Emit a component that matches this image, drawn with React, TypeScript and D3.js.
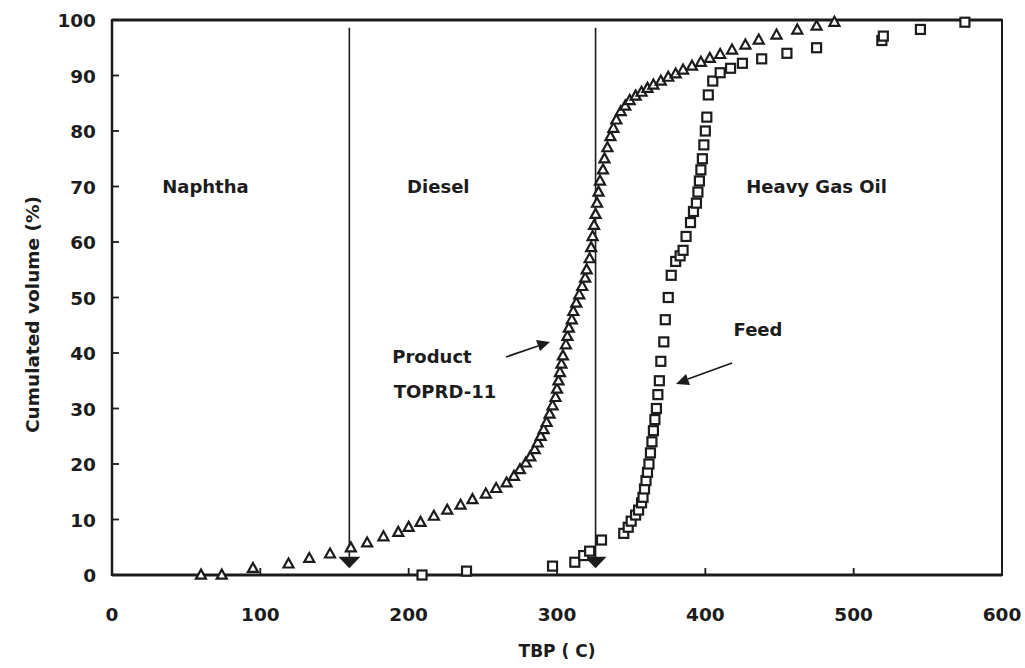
import React from "react";
import * as d3 from "d3";

const xTicks = [0, 100, 200, 300, 400, 500, 600];
const yTicks = [0, 10, 20, 30, 40, 50, 60, 70, 80, 90, 100];

const productX = [60, 74, 95, 119, 133, 147, 161, 172, 183, 193, 200, 208, 217, 226, 235, 243, 252, 259, 266, 271, 275, 279, 282, 285, 287, 289, 291, 293, 295, 297, 299, 300, 301, 302, 303, 304, 306, 307, 308, 310, 311, 313, 315, 317, 319, 320, 322, 323, 324, 325, 326, 327, 328, 329, 331, 332, 334, 336, 338, 340, 343, 346, 349, 353, 357, 361, 365, 370, 375, 380, 385, 391, 397, 403, 410, 418, 427, 436, 448, 462, 475, 487];
const productY = [0, 0, 1.2, 2, 3, 3.8, 4.9, 5.8, 6.9, 7.7, 8.6, 9.5, 10.6, 11.7, 12.6, 13.6, 14.6, 15.6, 16.6, 17.8, 19, 20.2, 21.3, 22.6, 23.8, 25, 26.2, 27.5, 29, 30.5, 32, 33.5, 35, 36.5, 38, 39.5, 41.5, 43, 44.5, 46, 47.5, 49, 50.5, 52, 53.5, 55, 57, 59, 61, 63, 65, 67, 69, 71, 73, 75, 77, 79, 80.5, 82, 83.5, 84.5, 85.5, 86.3, 87, 87.7, 88.3, 89, 89.7, 90.3, 91, 91.7, 92.4, 93.1, 93.8, 94.6, 95.5, 96.4, 97.3, 98.2, 98.9, 99.6];

const feedX = [209, 239, 297, 312, 318, 322, 330, 345, 348, 350, 353, 355, 357, 358, 359, 360, 361, 362, 363, 364, 365, 366, 367, 368, 369, 370, 372, 373, 375, 377, 380, 383, 385, 387, 390, 392, 394, 395, 396, 397, 398, 399, 400, 401, 402, 405, 410, 417, 425, 438, 455, 475, 519, 520, 545, 575];
const feedY = [0, 0.7, 1.6, 2.3, 3.5, 4.3, 6.3, 7.5, 8.6, 9.7, 10.8, 11.7, 13, 14, 15.5, 17, 18.5, 20, 22, 24, 26, 28, 30, 32.5, 35, 38.5, 42, 46, 50, 54, 56.5, 57.5, 58.5, 61, 63.5, 65.5, 67, 69, 71, 73, 75, 77.5, 80, 82.5, 86.5, 89, 90.5, 91.3, 92.2, 93, 94, 95, 96.3, 97.1, 98.3, 99.6];

const cutPoints = [160, 326];
const regionLabels = ["Naphtha", "Diesel", "Heavy Gas Oil"];
const regionLabelX = [63, 220, 475];
const regionLabelY = [70, 70, 70];

const W = 1025;
const H = 668;
const left = 112;
const right = 1002;
const top = 20;
const bottom = 575;
const ink = "#1c1c1c";
const font = "'DejaVu Sans', Arial, Helvetica, sans-serif";

export default function App() {
  const x = d3.scaleLinear().domain([0, 600]).range([left, right]);
  const y = d3.scaleLinear().domain([0, 100]).range([bottom, top]);

  const tri = (cx: number, cy: number, s: number) => {
    const h = s * 0.9;
    return `M${cx},${cy - h * 0.6}L${cx + s / 2},${cy + h * 0.4}L${cx - s / 2},${cy + h * 0.4}Z`;
  };

  const product = productX.map((v, i) => ({ x: v, y: productY[i] }));
  const feed = feedX.map((v, i) => ({ x: v, y: feedY[i] }));

  return (
    <svg width={W} height={H} style={{ position: "absolute", left: 0, top: 0, background: "#fff" }} fontFamily={font}>
      <rect x={0} y={0} width={W} height={H} fill="#fff" />
      {/* frame */}
      <line x1={left} x2={right} y1={top} y2={top} stroke={ink} strokeWidth={3} />
      <line x1={left} x2={right} y1={bottom} y2={bottom} stroke={ink} strokeWidth={3} />
      <line x1={left} x2={left} y1={top - 1} y2={bottom + 1} stroke={ink} strokeWidth={2.5} />
      <line x1={right} x2={right} y1={top - 1} y2={bottom + 1} stroke={ink} strokeWidth={2} />
      {/* y ticks */}
      {yTicks.map((t) => (
        <g key={"y" + t}>
          {t > 0 && t < 100 && (
            <line x1={left} x2={left + 7} y1={y(t)} y2={y(t)} stroke={ink} strokeWidth={1.8} />
          )}
          <text x={left - 16} y={y(t) + 7} textAnchor="end" fontSize={18.5} fontWeight="bold" fill={ink}>
            {t}
          </text>
        </g>
      ))}
      {/* x ticks */}
      {xTicks.map((t) => (
        <g key={"x" + t}>
          {t > 0 && t < 600 && (
            <line x1={x(t)} x2={x(t)} y1={bottom} y2={bottom - 7} stroke={ink} strokeWidth={1.8} />
          )}
          <text x={x(t)} y={bottom + 46} textAnchor="middle" fontSize={18.5} fontWeight="bold" fill={ink}>
            {t}
          </text>
        </g>
      ))}
      <text x={557} y={657} textAnchor="middle" fontSize={17} fontWeight="bold" fill={ink}>
        TBP ( C)
      </text>
      <text
        transform={`translate(39,${(top + bottom) / 2 + 17}) rotate(-90)`}
        textAnchor="middle"
        fontSize={18.5}
        fontWeight="bold"
        fill={ink}
      >
        Cumulated volume (%)
      </text>
      {/* cut lines with arrows */}
      {cutPoints.map((c) => (
        <g key={"c" + c}>
          <line x1={x(c)} x2={x(c)} y1={y(98.6)} y2={y(2.8)} stroke={ink} strokeWidth={1.6} />
          <path
            d={`M${x(c) - 11},${y(3.3)}L${x(c) + 11},${y(3.3)}L${x(c)},${y(1.2)}Z`}
            fill={ink}
          />
        </g>
      ))}
      {/* region labels */}
      {regionLabels.map((l, i) => (
        <text key={l} x={x(regionLabelX[i])} y={y(regionLabelY[i]) + 6} textAnchor="middle" fontSize={18} fontWeight="bold" fill={ink}>
          {l}
        </text>
      ))}
      <text x={432} y={363} textAnchor="middle" fontSize={18} fontWeight="bold" fill={ink}>
        Product
      </text>
      <text x={445} y={398} textAnchor="middle" fontSize={18} fontWeight="bold" fill={ink}>
        TOPRD-11
      </text>
      <text x={758} y={336} textAnchor="middle" fontSize={18} fontWeight="bold" fill={ink}>
        Feed
      </text>
      {/* annotation arrows */}
      <line x1={506} y1={357} x2={538} y2={346} stroke={ink} strokeWidth={1.8} />
      <path d="M550,342 L536,340 L540,351 Z" fill={ink} />
      <line x1={732} y1={363} x2={688} y2={379} stroke={ink} strokeWidth={1.8} />
      <path d="M676,384 L686,374 L690,385 Z" fill={ink} />
      {/* product triangles */}
      {product.map((p, i) => (
        <path key={"p" + i} d={tri(x(p.x), y(p.y), 10)} fill="#fff" stroke={ink} strokeWidth={2.2} />
      ))}
      {/* feed squares */}
      {feed.map((p, i) => (
        <rect key={"f" + i} x={x(p.x) - 4.5} y={y(p.y) - 4.5} width={9} height={9} fill="#fff" stroke={ink} strokeWidth={2.2} />
      ))}
    </svg>
  );
}
